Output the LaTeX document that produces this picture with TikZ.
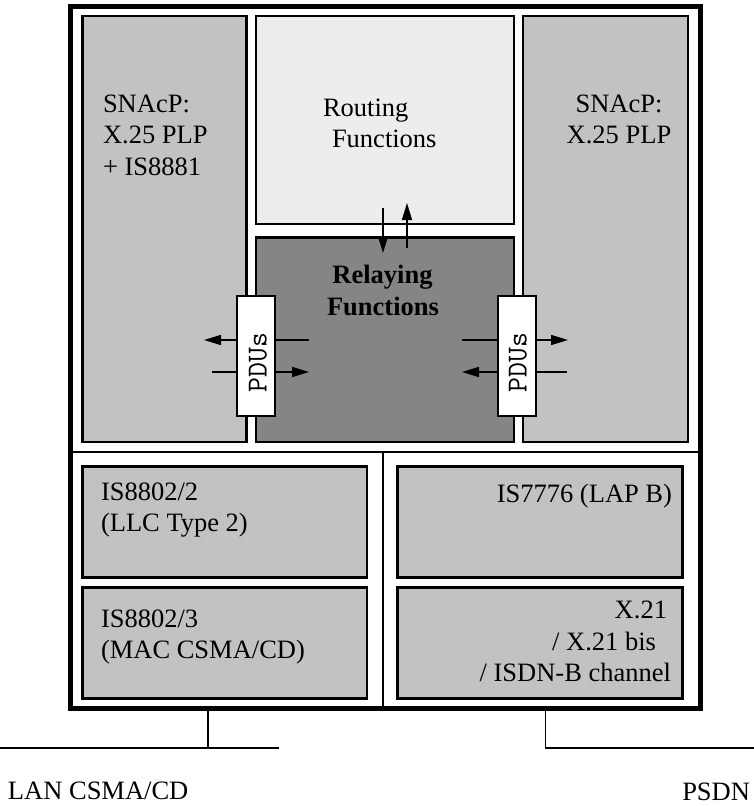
\documentclass[tikz,border=0pt]{standalone}
\usepackage{fontspec}
\setmainfont{Liberation Serif}
\usetikzlibrary{arrows.meta}
\definecolor{sidegray}{gray}{0.76}
\definecolor{routgray}{gray}{0.93}
\definecolor{relgray}{gray}{0.52}
\begin{document}
\begin{tikzpicture}[x=1pt,y=-1pt,
  box/.style={draw=black, line width=2.5pt, outer sep=0pt, inner sep=0pt, anchor=north west},
  pdubox/.style={draw=black, fill=white, line width=1.5pt, outer sep=0pt, inner sep=0pt, anchor=north west,
                 minimum width=38pt, minimum height=120pt},
  lbl/.style={inner sep=0pt, outer sep=0pt, font=\fontsize{26.5}{31.5}\selectfont},
  blbl/.style={lbl, font=\fontsize{26.5}{31.5}\selectfont\bfseries},
  pdulbl/.style={inner sep=0pt, outer sep=0pt, rotate=90, font=\fontsize{29}{32}\ttfamily},
  arr/.style={line width=1.6pt, -{Triangle[length=17pt,width=10pt]}},
  plain/.style={line width=1.6pt}
]
\useasboundingbox (0,0) rectangle (754,806);

% outer frame
\node[box, line width=5pt, minimum width=630pt, minimum height=701.5pt] (frame) at (70,6.5) {};

% upper boxes
\node[box, fill=sidegray, minimum width=164pt, minimum height=426pt] (lside) at (82.5,16) {};
\node[box, fill=routgray, minimum width=258pt, minimum height=208pt] (rout) at (256,16) {};
\node[box, fill=relgray, minimum width=258pt, minimum height=204.5pt] (relay) at (256,237.5) {};
\node[box, fill=sidegray, minimum width=165pt, minimum height=426pt] (rside) at (523,16) {};

% dividers
\coordinate (divL) at (70,452);
\coordinate (divR) at (700,452);
\coordinate (divM) at (383,452);
\coordinate (divB) at (383,708);
\draw[line width=2pt] (divL) -- (divR);
\draw[line width=2pt] (divM) -- (divB);

% lower boxes
\node[box, fill=sidegray, minimum width=284.5pt, minimum height=111pt] (llc) at (82.5,466.5) {};
\node[box, fill=sidegray, minimum width=284.5pt, minimum height=111pt] (mac) at (82.5,587.5) {};
\node[box, fill=sidegray, minimum width=285pt, minimum height=111pt] (lapb) at (397.5,466.5) {};
\node[box, fill=sidegray, minimum width=285pt, minimum height=111pt] (x21) at (397.5,587.5) {};

% routing <-> relaying arrows
\coordinate (dnA) at (383,208);
\coordinate (dnB) at (383,253);
\coordinate (upA) at (407,248);
\coordinate (upB) at (407,203);
\draw[arr] (dnA) -- (dnB);
\draw[arr] (upA) -- (upB);

% PDU arrows left
\coordinate (l1a) at (309,340);
\coordinate (l1b) at (204,340);
\coordinate (l2a) at (212,372);
\coordinate (l2b) at (309,372);
\draw[arr] (l1a) -- (l1b);
\draw[arr] (l2a) -- (l2b);
% PDU arrows right
\coordinate (r1a) at (462,340);
\coordinate (r1b) at (568,340);
\coordinate (r2a) at (567,372);
\coordinate (r2b) at (462,372);
\draw[arr] (r1a) -- (r1b);
\draw[arr] (r2a) -- (r2b);

% PDU boxes
\node[pdubox] (pduL) at (237,296) {};
\node[pdubox] (pduR) at (498,296) {};
\node[pdulbl] (pduLt) at (258,362.5) {PDUs};
\node[pdulbl] (pduRt) at (518,362.5) {PDUs};

% texts upper
\node[lbl, anchor=base west] (ls1) at (103,112) {SNAcP:};
\node[lbl, anchor=base west] (ls2) at (103,143.5) {X.25 PLP};
\node[lbl, anchor=base west] (ls3) at (103,175) {+ IS8881};
\node[lbl, anchor=base] (rs1) at (619,112) {SNAcP:};
\node[lbl, anchor=base] (rs2) at (619,143.5) {X.25 PLP};
\node[lbl, anchor=base west] (rt1) at (323,116) {Routing};
\node[lbl, anchor=base west] (rt2) at (332,147) {Functions};
\node[blbl, anchor=base] (rl1) at (382.5,283) {Relaying};
\node[blbl, anchor=base] (rl2) at (383,315) {Functions};

% texts lower
\node[lbl, anchor=base west] (b1) at (101,500) {IS8802/2};
\node[lbl, anchor=base west] (b2) at (101,531) {(LLC Type 2)};
\node[lbl, anchor=base west] (b3) at (101,627) {IS8802/3};
\node[lbl, anchor=base west] (b4) at (101,658) {(MAC CSMA/CD)};
\node[lbl, anchor=base east] (b5) at (672,502) {IS7776 (LAP B)};
\node[lbl, anchor=base east] (b6) at (667,618) {X.21};
\node[lbl, anchor=base east] (b7) at (656,650) {/ X.21 bis};
\node[lbl, anchor=base east] (b8) at (671,681) {/ ISDN-B channel};

% network attachments
\coordinate (lanT) at (208,708);
\coordinate (lanJ) at (208,748);
\coordinate (lanL) at (0,748);
\coordinate (lanR) at (279,748);
\draw[plain] (lanT) -- (lanJ);
\draw[plain] (lanL) -- (lanR);
\coordinate (psT) at (545.5,708);
\coordinate (psJ) at (545.5,748);
\coordinate (psR) at (754,748);
\draw[plain] (psT) -- (psJ) -- (psR);

\node[lbl, anchor=base west] (lan) at (8,799) {LAN CSMA/CD};
\node[lbl, anchor=base east] (psdn) at (750,800) {PSDN};
\end{tikzpicture}
\end{document}
